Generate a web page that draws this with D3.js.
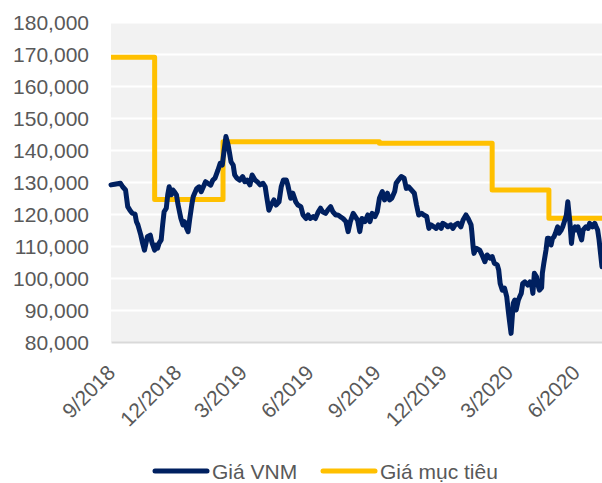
<!DOCTYPE html>
<html>
<head>
<meta charset="utf-8">
<script src="https://cdn.jsdelivr.net/npm/d3@7/dist/d3.min.js"></script>
<style>
    body { margin: 0; background: #ffffff; }
    svg text { font-family: "Liberation Sans", Arial, sans-serif; fill: #595959; }
</style>
</head>
<body>
<div id="chart"></div>
<script>

//VNM close price (VND):
var vnmDates = [
    "2018-09-01", "2018-09-06", "2018-09-14", "2018-09-17", "2018-09-21", "2018-09-24", "2018-09-27", "2018-09-30", "2018-10-04", "2018-10-06",
    "2018-10-08", "2018-10-12", "2018-10-14", "2018-10-17", "2018-10-19", "2018-10-21", "2018-10-25", "2018-10-27", "2018-10-31", "2018-11-02",
    "2018-11-04", "2018-11-06", "2018-11-09", "2018-11-11", "2018-11-13", "2018-11-16", "2018-11-18", "2018-11-20", "2018-11-23", "2018-11-25",
    "2018-11-27", "2018-11-30", "2018-12-02", "2018-12-06", "2018-12-09", "2018-12-11", "2018-12-14", "2018-12-16", "2018-12-18", "2018-12-21",
    "2018-12-23", "2018-12-25", "2018-12-28", "2018-12-31", "2019-01-03", "2019-01-06", "2019-01-09", "2019-01-12", "2019-01-16", "2019-01-19",
    "2019-01-22", "2019-01-26", "2019-01-29", "2019-02-01", "2019-02-03", "2019-02-06", "2019-02-09", "2019-02-11", "2019-02-13", "2019-02-16",
    "2019-02-18", "2019-02-21", "2019-02-25", "2019-03-01", "2019-03-04", "2019-03-07", "2019-03-11", "2019-03-14", "2019-03-18", "2019-03-21",
    "2019-03-25", "2019-03-29", "2019-04-01", "2019-04-03", "2019-04-06", "2019-04-09", "2019-04-13", "2019-04-16", "2019-04-20", "2019-04-23",
    "2019-04-26", "2019-04-30", "2019-05-02", "2019-05-06", "2019-05-09", "2019-05-13", "2019-05-16", "2019-05-20", "2019-05-23", "2019-05-27",
    "2019-05-30", "2019-06-02", "2019-06-06", "2019-06-09", "2019-06-13", "2019-06-16", "2019-06-19", "2019-06-23", "2019-06-26", "2019-06-30",
    "2019-07-03", "2019-07-07", "2019-07-10", "2019-07-13", "2019-07-17", "2019-07-21", "2019-07-24", "2019-07-27", "2019-07-31", "2019-08-06",
    "2019-08-09", "2019-08-12", "2019-08-16", "2019-08-20", "2019-08-23", "2019-08-26", "2019-08-30", "2019-09-02", "2019-09-05", "2019-09-09",
    "2019-09-12", "2019-09-16", "2019-09-19", "2019-09-22", "2019-09-26", "2019-09-28", "2019-10-01", "2019-10-05", "2019-10-09", "2019-10-12",
    "2019-10-15", "2019-10-19", "2019-10-23", "2019-10-26", "2019-10-29", "2019-11-02", "2019-11-05", "2019-11-09", "2019-11-12", "2019-11-15",
    "2019-11-19", "2019-11-22", "2019-11-25", "2019-11-29", "2019-12-01", "2019-12-05", "2019-12-08", "2019-12-12", "2019-12-15", "2019-12-18",
    "2019-12-22", "2019-12-26", "2019-12-29", "2020-01-02", "2020-01-05", "2020-01-09", "2020-01-10", "2020-01-12", "2020-01-13", "2020-01-16",
    "2020-01-21", "2020-01-25", "2020-01-28", "2020-01-31", "2020-02-04", "2020-02-07", "2020-02-10", "2020-02-14", "2020-02-16", "2020-02-18",
    "2020-02-21", "2020-02-24", "2020-02-27", "2020-02-29", "2020-03-02", "2020-03-04", "2020-03-07", "2020-03-09", "2020-03-11", "2020-03-14",
    "2020-03-16", "2020-03-18", "2020-03-20", "2020-03-23", "2020-03-25", "2020-03-27", "2020-03-30", "2020-04-01", "2020-04-03", "2020-04-05",
    "2020-04-08", "2020-04-10", "2020-04-12", "2020-04-15", "2020-04-16", "2020-04-18", "2020-04-21", "2020-04-23", "2020-04-25", "2020-04-28",
    "2020-04-30", "2020-05-02", "2020-05-04", "2020-05-07", "2020-05-09", "2020-05-12", "2020-05-14", "2020-05-17", "2020-05-19", "2020-05-21",
    "2020-05-24", "2020-05-26", "2020-05-28", "2020-05-31", "2020-06-02", "2020-06-04", "2020-06-06", "2020-06-09", "2020-06-11", "2020-06-15",
    "2020-06-18", "2020-06-20", "2020-06-24", "2020-06-27", "2020-06-29", "2020-07-01", "2020-07-03", "2020-07-07"
];
var vnmPrices = [
    129100, 129300, 129600, 128500, 127500, 122300, 121200, 120300, 120000, 117600,
    116600, 113400, 111300, 108700, 110800, 112900, 113400, 111300, 108700, 110300,
    109300, 110800, 111900, 116600, 120700, 121800, 126000, 128500, 126000, 127500,
    127000, 126000, 123100, 118700, 116600, 117600, 115500, 114500, 118100, 122800,
    125400, 126500, 128000, 128500, 127000, 128500, 130100, 129600, 129000, 130600,
    131200, 133700, 135800, 135300, 139000, 144200, 141600, 139000, 136300, 135300,
    132200, 131200, 130600, 131700, 130100, 130600, 129100, 132200, 130600, 130100,
    129100, 129600, 128500, 125400, 121200, 122800, 124400, 122800, 123800, 128500,
    130600, 130600, 129100, 124900, 126500, 123800, 122800, 122300, 119700, 118600,
    119700, 118600, 119200, 118600, 120700, 121800, 120700, 120200, 121200, 122300,
    120700, 119700, 119700, 119200, 118600, 117600, 114500, 117600, 120200, 118100,
    114500, 118600, 117600, 119700, 117600, 120200, 119200, 120700, 124900, 127000,
    124400, 126500, 124400, 124900, 127000, 129600, 130600, 131700, 131200, 128000,
    128500, 127500, 126500, 122800, 119700, 120200, 119700, 119200, 115500, 116600,
    116000, 115500, 116600, 115500, 117100, 116600, 116000, 116600, 115500, 116600,
    117100, 116000, 118100, 119700, 118600, 116600, 114500, 109300, 107700, 109300,
    108700, 106700, 105100, 107200, 106200, 106700, 104600, 104100, 102500, 98300,
    96200, 96800, 94200, 90000, 86300, 82700, 92100, 93100, 90000, 93100,
    94200, 95200, 98300, 98800, 98300, 97800, 98800, 98300, 95200, 101500,
    100400, 97800, 96200, 97000, 101500, 104600, 108700, 112400, 112400, 110300,
    112400, 112900, 114000, 116000, 114000, 115000, 116000, 118100, 119700, 123800,
    117100, 110800, 115000, 116000, 115000, 116000, 114000, 111900, 115000, 116000,
    115500, 117100, 116000, 117100, 116000, 115000, 111900, 103500
];

//target price steps (each value holds until the next date):
var targetDates = ["2018-09-01", "2018-10-31", "2019-02-02", "2019-09-05", "2020-02-07", "2020-04-25", "2020-07-07"];
var targetPrices = [169000, 124500, 142600, 142100, 127500, 118700, 118700];

//axis ticks:
var yTicks = [80000, 90000, 100000, 110000, 120000, 130000, 140000, 150000, 160000, 170000, 180000];
var xTicks = ["2018-09-01", "2018-12-01", "2019-03-01", "2019-06-01", "2019-09-01", "2019-12-01", "2020-03-01", "2020-06-01"];
var xStart = "2018-09-01";
var xEnd = "2020-07-07";

//legend:
var seriesNames = ["Giá VNM", "Giá mục tiêu"];
var seriesColors = ["#002060", "#FFC000"];


function drawChart() {
    var width = 602;
    var height = 483;
    var parseDate = d3.timeParse("%Y-%m-%d");

    var vnm = vnmDates.map(function (d, i) {
        return {date: parseDate(d), value: vnmPrices[i]};
    });
    var target = targetDates.map(function (d, i) {
        return {date: parseDate(d), value: targetPrices[i]};
    });

    var svg = d3.select("#chart")
        .append("svg")
        .attr("width", width)
        .attr("height", height);

    //plot area
    var plotLeft = 111, plotRight = 602, plotTop = 22, plotBottom = 342;

    var xScale = d3.scaleTime()
        .domain([parseDate(xStart), parseDate(xEnd)])
        .range([plotLeft, plotRight]);
    var yScale = d3.scaleLinear()
        .domain([80000, 180000])
        .range([plotBottom, plotTop]);

    svg.append("rect")
        .attr("x", plotLeft)
        .attr("y", plotTop)
        .attr("width", plotRight - plotLeft)
        .attr("height", plotBottom - plotTop)
        .attr("fill", "#F2F2F2");

    //gridlines
    var grid = svg.append("g")
        .attr("transform", "translate(" + plotLeft + ",0)")
        .call(d3.axisLeft(yScale).tickValues(yTicks.slice(1)).tickSize(-(plotRight - plotLeft)).tickFormat(""));
    grid.select(".domain").remove();
    grid.selectAll("line").attr("stroke", "#ffffff").attr("stroke-width", 2);

    //y axis labels
    var yAxis = svg.append("g")
        .attr("transform", "translate(" + plotLeft + ",0)")
        .call(d3.axisLeft(yScale).tickValues(yTicks).tickSize(0).tickPadding(22).tickFormat(d3.format(",")));
    yAxis.select(".domain").remove();
    yAxis.attr("font-family", null).attr("font-size", 21);
    yAxis.selectAll("text").attr("dy", "0.36em");

    //x axis
    var xAxis = svg.append("g")
        .attr("transform", "translate(0," + plotBottom + ")")
        .call(d3.axisBottom(xScale)
            .tickValues(xTicks.map(parseDate))
            .tickSize(0)
            .tickSizeOuter(0)
            .tickFormat(d3.timeFormat("%-m/%Y")));
    xAxis.attr("font-family", null).attr("font-size", 21);
    xAxis.select(".domain")
        .attr("stroke", "#D9D9D9")
        .attr("stroke-width", 2);
    xAxis.selectAll("text")
        .attr("text-anchor", "end")
        .attr("x", 0)
        .attr("y", 0)
        .attr("dy", 0)
        .attr("transform", "translate(5,32) rotate(-45)");

    //lines
    var targetLine = d3.line()
        .curve(d3.curveStepAfter)
        .x(function (d) { return xScale(d.date); })
        .y(function (d) { return yScale(d.value); });

    var priceLine = d3.line()
        .x(function (d) { return xScale(d.date); })
        .y(function (d) { return yScale(d.value); });

    svg.append("path")
        .datum(target)
        .attr("d", targetLine)
        .attr("fill", "none")
        .attr("stroke", seriesColors[1])
        .attr("stroke-width", 5)
        .attr("stroke-linejoin", "round");

    svg.append("path")
        .datum(vnm)
        .attr("d", priceLine)
        .attr("fill", "none")
        .attr("stroke", seriesColors[0])
        .attr("stroke-width", 5)
        .attr("stroke-linejoin", "round")
        .attr("stroke-linecap", "round");

    //legend
    var legendX = [155, 323];
    var legend = svg.append("g");
    seriesNames.forEach(function (name, i) {
        legend.append("line")
            .attr("x1", legendX[i])
            .attr("x2", legendX[i] + 52)
            .attr("y1", 471)
            .attr("y2", 471)
            .attr("stroke", seriesColors[i])
            .attr("stroke-width", 5)
            .attr("stroke-linecap", "round");
        legend.append("text")
            .attr("x", legendX[i] + 57)
            .attr("y", 471)
            .attr("dy", "0.36em")
            .attr("font-size", 21)
            .text(name);
    });
}

drawChart();

</script>
</body>
</html>
